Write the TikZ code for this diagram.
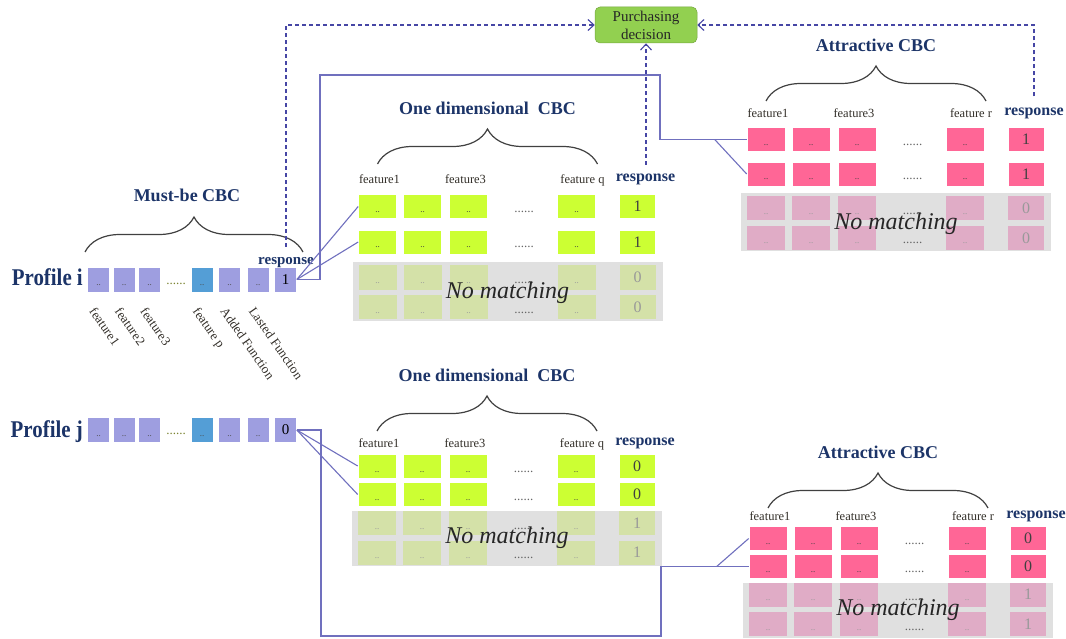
\documentclass[tikz,border=0pt]{standalone}
\usepackage{fontspec}
\setmainfont{Liberation Serif}
\newfontfamily\profilefont[FakeStretch=0.87]{Liberation Serif}
\usetikzlibrary{arrows.meta, decorations.pathreplacing}

\definecolor{mbviolet}{RGB}{158,158,224}
\definecolor{mbblue}{RGB}{84,158,214}
\definecolor{odlime}{RGB}{204,255,51}
\definecolor{odpale}{RGB}{212,225,168}
\definecolor{atpink}{RGB}{255,102,150}
\definecolor{atpale}{RGB}{224,172,198}
\definecolor{bandgray}{RGB}{224,224,224}
\definecolor{titlenavy}{RGB}{28,52,104}
\definecolor{linkviolet}{RGB}{112,112,190}
\definecolor{dashnavy}{RGB}{70,70,165}
\definecolor{decisiongreen}{RGB}{146,208,80}

\tikzstyle{pcell} = [rectangle, fill=mbviolet, draw=white, line width=0.6pt, minimum width=22pt, minimum height=25pt, inner sep=0pt, font=\fontsize{9}{9}\selectfont, text=black!70]
\tikzstyle{pblue} = [pcell, fill=mbblue]
\tikzstyle{presp} = [pcell, font=\fontsize{15}{15}\selectfont, text=black]
\tikzstyle{odcell} = [rectangle, fill=odlime, draw=white, line width=0.6pt, minimum width=38pt, minimum height=24pt, inner sep=0pt, font=\fontsize{9}{9}\selectfont, text=black!75]
\tikzstyle{odfade} = [odcell, fill=odpale, draw=none, text=black!40]
\tikzstyle{atcell} = [odcell, fill=atpink]
\tikzstyle{atfade} = [odcell, fill=atpale, draw=none, text=black!40]
\tikzstyle{resp} = [minimum width=36pt, font=\fontsize{16}{16}\selectfont]
\tikzstyle{gapdots} = [inner sep=0pt, font=\fontsize{13}{13}\selectfont, text=black!60]
\tikzstyle{nomatch} = [fill=bandgray]
\tikzstyle{nomatchtext} = [inner sep=0pt, font=\fontsize{24}{24}\selectfont\itshape, text=black!85]
\tikzstyle{blocktitle} = [text=titlenavy, font=\fontsize{18}{18}\selectfont\bfseries]
\tikzstyle{profile} = [anchor=base east, inner sep=1pt, text=titlenavy, font=\profilefont\fontsize{24}{24}\selectfont\bfseries]
\tikzstyle{featlabel} = [anchor=base, inner sep=1pt, text=black!85!olive, font=\fontsize{12.5}{12.5}\selectfont]
\tikzstyle{featrot} = [anchor=north west, rotate=-55, inner sep=0.5pt, text=black!85!olive, font=\fontsize{13}{13}\selectfont]
\tikzstyle{resplabel} = [anchor=base, inner sep=1pt, text=titlenavy, font=\fontsize{16}{16}\selectfont\bfseries]
\tikzstyle{cbcbrace} = [decorate, decoration={brace, amplitude=35pt}, draw=black!75, line width=1.2pt]
\tikzstyle{link} = [draw=linkviolet, line width=1.1pt]
\tikzstyle{decisionlink} = [draw=dashnavy, line width=1.1pt, dash pattern=on 4pt off 3pt, -{Straight Barb[length=6pt,width=11pt]}]
\tikzstyle{decisionbox} = [rectangle, rounded corners=5pt, fill=decisiongreen, draw=decisiongreen!80!black, line width=0.5pt, minimum width=102pt, minimum height=36pt, align=center, inner sep=1pt, text=black!85, font=\fontsize{15}{18}\selectfont]

\newcommand{\celldots}{\raisebox{-6pt}[0pt][0pt]{..}}
\newcommand{\gapfill}{\raisebox{-6pt}[0pt][0pt]{......}}

% #1 name, #2 x of first column, #3 title y, #4 first row y, #5 row gap,
% #6 title, #7 last feature, #8 cell style prefix, #9 response of matching rows
\newcommand{\cbcblock}[9]{%
	\pgfmathsetmacro{\rowb}{#4+#5}%
	\pgfmathsetmacro{\rowc}{#4+2*#5}%
	\pgfmathsetmacro{\rowd}{#4+2*#5+29.5}%
	\pgfmathsetmacro{\bandtop}{#4+1.5*#5+2}%
	\pgfmathsetmacro{\bandbot}{#4+2*#5+43}%
	\pgfmathtruncatemacro{\respoff}{1-#9}%
	% title and brace
	\node[blocktitle] (#1-title) at ({#2+110},#3) {#6};
	\draw[cbcbrace] ({#2},{#3+56}) -- ({#2+220},{#3+56});
	% feature labels
	\node[featlabel] (#1-f1) at ({#2+2},{#4-0.65*#5}) {feature1};
	\node[featlabel] (#1-f3) at ({#2+88},{#4-0.65*#5}) {feature3};
	\node[featlabel] (#1-fl) at ({#2+205},{#4-0.65*#5}) {#7};
	\node[resplabel] (#1-rl) at ({#2+268},{#4-0.65*#5-2}) {response};
	% no matching band
	\fill[nomatch] ({#2-25},\bandtop) rectangle ({#2+285},\bandbot);
	% cells
	\foreach \r/\ry/\st/\v in {1/#4/#8cell/#9, 2/\rowb/#8cell/#9, 3/\rowc/#8fade/\respoff, 4/\rowd/#8fade/\respoff}{
		\foreach \c/\dx in {1/0, 2/45, 3/91, 5/199}
			\node[\st] (#1-\r-\c) at ({#2+\dx},\ry) {\celldots};
		\node[gapdots] (#1-\r-4) at ({#2+146.5},\ry) {\gapfill};
		\node[\st, resp] (#1-\r-6) at ({#2+260},\ry) {\v};
	}
	\node[nomatchtext] (#1-nm) at ({#2+130},{(\rowc+\rowd)/2}) {No matching};
}

\begin{document}
\begin{tikzpicture}[x=1pt, y=-1pt]
		\useasboundingbox (0,0) rectangle (1066,639);
		
		% Purchasing decision
		\node[decisionbox] (decision) at (646,25) {Purchasing\\decision};
		
		% Must-be CBC
		\node[blocktitle] (mb-title) at (187,195) {Must-be CBC};
		\draw[cbcbrace] (85,252) -- (303,252);
		
		% Profile i
		\node[profile] (pi) at (84,286) {Profile i};
		\foreach \c/\x/\st in {1/98.5/pcell, 2/124/pcell, 3/149.5/pcell, 5/202/pblue, 6/229.5/pcell, 7/258/pcell}
			\node[\st] (pi-\c) at (\x,279.5) {\celldots};
		\node[gapdots, text=olive!70!teal] (pi-4) at (176,278) {\gapfill};
		\node[presp] (pi-8) at (285.5,279.5) {1};
		\node[resplabel, font=\fontsize{15}{15}\selectfont\bfseries] (pi-rl) at (286,265) {response};
		\foreach \c/\t in {1/feature1, 2/feature2, 3/feature3, 5/feature p, 6/Added Function, 7/Lasted Function}
			\node[featrot] (pi-l\c) at ([xshift=-2pt,yshift=-13pt]pi-\c.south) {\t};
		
		% Profile j
		\node[profile] (pj) at (84,437) {Profile j};
		\foreach \c/\x/\st in {1/98.5/pcell, 2/124/pcell, 3/149.5/pcell, 5/202/pblue, 6/229.5/pcell, 7/258/pcell}
			\node[\st] (pj-\c) at (\x,430) {\celldots};
		\node[gapdots, text=olive!70!teal] (pj-4) at (176,428.5) {\gapfill};
		\node[presp] (pj-8) at (285.5,430) {0};
		
		% CBC blocks
		\cbcblock{odt}{377.5}{108}{206.5}{35.5}{One dimensional\ \ CBC}{feature q}{od}{1}
		\cbcblock{odb}{377}{375}{466}{28.5}{One dimensional\ \ CBC}{feature q}{od}{0}
		\cbcblock{att}{766}{45}{139.5}{34.5}{Attractive CBC}{feature r}{at}{1}
		\cbcblock{atb}{768}{452}{538.5}{28}{Attractive CBC}{feature r}{at}{0}
		
		% connections of profile i
		\draw[link] (pi-8.east) -- (odt-1-1.west);
		\draw[link] (pi-8.east) -- (odt-2-1.west);
		\coordinate (ibend1) at (320,75);
		\coordinate (ibend2) at (660,75);
		\draw[link] (pi-8.east) -| (ibend1) -- (ibend2) |- (att-1-1.west);
		\path (att-1-1.west) ++(-32,0) coordinate (ibranch);
		\draw[link] (ibranch) -- (att-2-1.west);
		
		% connections of profile j
		\draw[link] (pj-8.east) -- (odb-1-1.west);
		\draw[link] (pj-8.east) -- (odb-2-1.west);
		\coordinate (jbend1) at (321,636);
		\coordinate (jbend2) at (661,636);
		\draw[link] (pj-8.east) -| (jbend1) -- (jbend2) |- (atb-2-1.west);
		\path (atb-2-1.west) ++(-32,0) coordinate (jbranch);
		\draw[link] (jbranch) -- (atb-1-1.west);
		
		% responses to the decision
		\path ([yshift=8pt]odt-rl.north) coordinate (odtup);
		\draw[decisionlink] ([yshift=10pt]pi-rl.north) |- (decision.west);
		\draw[decisionlink] (odtup -| decision.south) -- (decision.south);
		\draw[decisionlink] ([yshift=10pt]att-rl.north) |- (decision.east);
		
	\end{tikzpicture}
\end{document}
